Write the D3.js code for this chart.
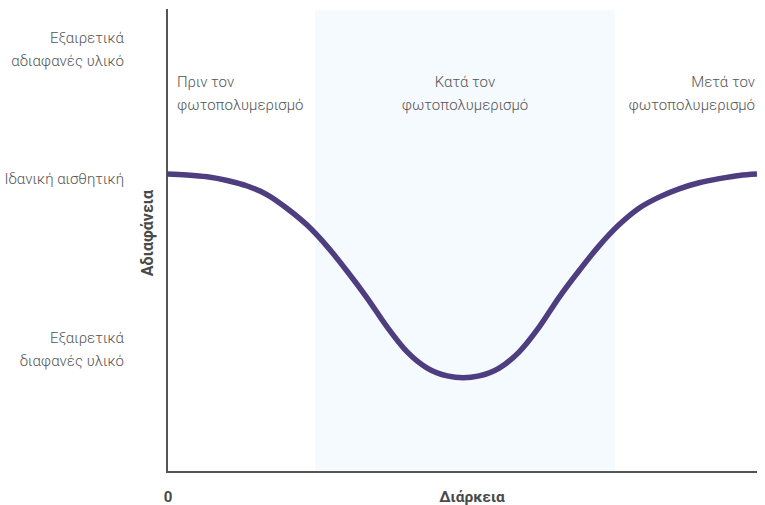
<!DOCTYPE html>
<html>
<head>
<meta charset="utf-8">
<script src="https://cdn.jsdelivr.net/npm/d3@7"></script>
<style>
  html, body { margin: 0; padding: 0; background: #fff; }
  svg { display: block; }
  text { font-family: Roboto, "Noto Sans", sans-serif; }
</style>
</head>
<body>
<svg id="chart" width="765" height="505"></svg>
<script>
// ---- data ----
const timeValues    = [0, 3.4, 6.8, 10.2, 13.6, 17.0, 20.3, 23.7, 27.1, 30.5, 33.9, 37.3, 40.7, 44.1, 47.5, 50.2,
                       52.9, 56.3, 59.7, 63.1, 66.4, 69.8, 73.2, 76.6, 80.0, 83.4, 86.8, 90.2, 93.6, 97.0, 100];
const opacityValues = [64.5, 64.3, 63.9, 63.1, 61.9, 60.0, 57.1, 53.5, 48.9, 43.5, 37.7, 31.4, 26.0, 22.5, 20.8, 20.4,
                       20.8, 22.5, 26.0, 31.4, 37.7, 43.5, 48.9, 53.5, 57.1, 59.5, 61.3, 62.6, 63.5, 64.2, 64.5];
const levelValues   = [91.5, 63.5, 26.5];
const levelLabels   = [["Εξαιρετικά", "αδιαφανές υλικό"], ["Ιδανική αισθητική"], ["Εξαιρετικά", "διαφανές υλικό"]];
const phaseStart    = [0, 25.1, 75.9];
const phaseEnd      = [25.1, 75.9, 100];
const phaseLabels   = [["Πριν τον", "φωτοπολυμερισμό"], ["Κατά τον", "φωτοπολυμερισμό"], ["Μετά τον", "φωτοπολυμερισμό"]];
const xTitle = "Διάρκεια";
const yTitle = "Αδιαφάνεια";
const originLabel = "0";

// ---- layout ----
const svg = d3.select("#chart");
const mLeft = 167, mRight = 757, mTop = 10, mBottom = 472;
const x = d3.scaleLinear().domain([0, 100]).range([mLeft, mRight]);
const y = d3.scaleLinear().domain([0, 100]).range([mBottom, mTop]);
const textColor = "#555555";

// shaded band (during photopolymerisation)
svg.append("rect")
  .attr("x", x(phaseStart[1]))
  .attr("y", y(100))
  .attr("width", x(phaseEnd[1]) - x(phaseStart[1]))
  .attr("height", y(0) - y(100))
  .attr("fill", "#f5faff");

// phase labels
const anchors = ["start", "middle", "end"];
phaseLabels.forEach((lines, i) => {
  let px;
  if (i === 0) px = x(phaseStart[0]) + 10;
  else if (i === 1) px = (x(phaseStart[1]) + x(phaseEnd[1])) / 2;
  else px = x(phaseEnd[2]) - 2;
  const t = svg.append("text")
    .attr("text-anchor", anchors[i])
    .attr("fill", textColor)
    .attr("font-size", 15)
    .attr("font-weight", 300);
  lines.forEach((l, j) => {
    t.append("tspan").attr("x", px).attr("y", 87 + j * 23).text(l);
  });
});

// level labels (y axis categories)
levelValues.forEach((v, i) => {
  const lines = levelLabels[i];
  const n = lines.length;
  const t = svg.append("text")
    .attr("text-anchor", "end")
    .attr("fill", textColor)
    .attr("font-size", 15)
    .attr("font-weight", 300);
  lines.forEach((l, j) => {
    t.append("tspan")
      .attr("x", 124)
      .attr("y", y(v) + 5 + (j - (n - 1) / 2) * 23)
      .text(l);
  });
});

// axes
svg.append("line")
  .attr("x1", mLeft).attr("x2", mLeft)
  .attr("y1", y(100) - 1).attr("y2", y(0) + 1)
  .attr("stroke", "#555").attr("stroke-width", 2);
svg.append("line")
  .attr("x1", mLeft - 1).attr("x2", mRight)
  .attr("y1", y(0)).attr("y2", y(0))
  .attr("stroke", "#555").attr("stroke-width", 2);

// curve
const pts = timeValues.map((t, i) => [t, opacityValues[i]]);
svg.append("path")
  .datum(pts)
  .attr("fill", "none")
  .attr("stroke", "#4e3e80")
  .attr("stroke-width", 5.5)
  .attr("d", d3.line().x(d => x(d[0])).y(d => y(d[1])).curve(d3.curveMonotoneX));

// titles
svg.append("text")
  .attr("x", x(0) + 1).attr("y", 502)
  .attr("text-anchor", "middle")
  .attr("fill", "#4a4a4a").attr("font-size", 15).attr("font-weight", 700)
  .text(originLabel);
svg.append("text")
  .attr("x", (x(0) + x(100)) / 2 + 10).attr("y", 502)
  .attr("text-anchor", "middle")
  .attr("fill", "#4a4a4a").attr("font-size", 15.5).attr("font-weight", 700)
  .text(xTitle);
svg.append("text")
  .attr("transform", `translate(153, ${233}) rotate(-90)`)
  .attr("text-anchor", "middle")
  .attr("fill", "#4a4a4a").attr("font-size", 16).attr("font-weight", 700)
  .text(yTitle);
</script>
</body>
</html>
